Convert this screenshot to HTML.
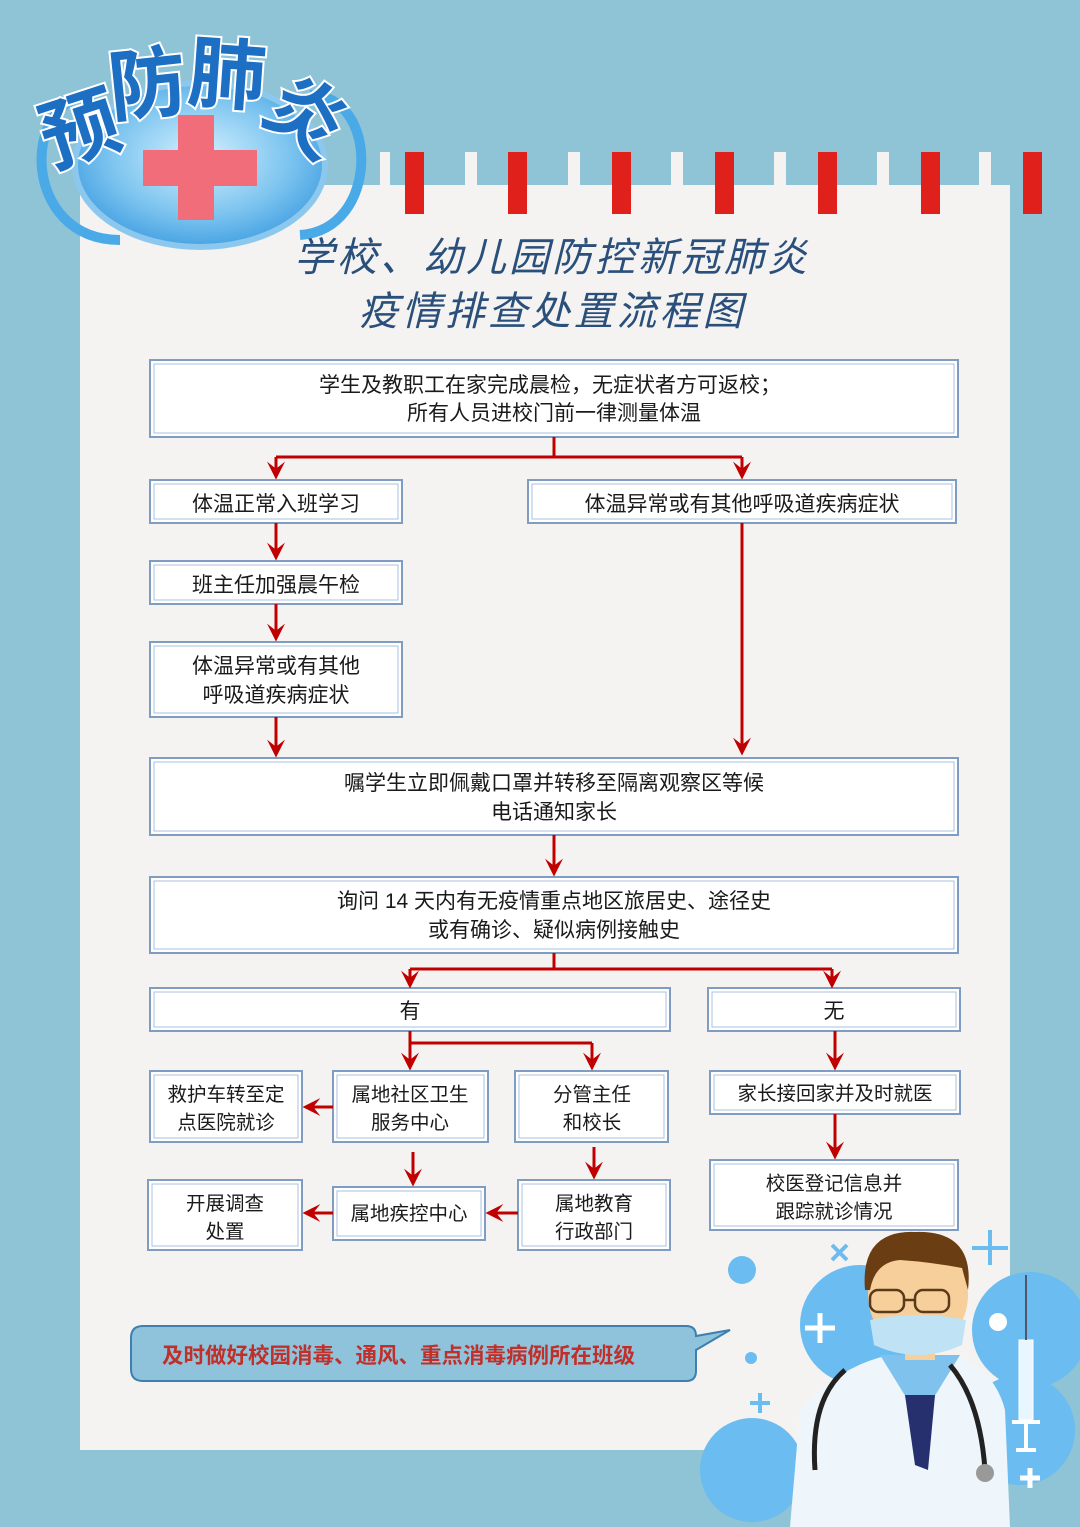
<!DOCTYPE html>
<html><head><meta charset="utf-8"><style>
html,body{margin:0;padding:0;background:#8fc3d6;}
svg{display:block;}
text{font-family:"Liberation Sans","Noto Sans CJK SC",sans-serif;}
</style></head><body>
<svg width="1080" height="1527" viewBox="0 0 1080 1527" xmlns="http://www.w3.org/2000/svg">
<defs>
<radialGradient id="mg" cx="0.5" cy="0.45" r="0.6">
<stop offset="0" stop-color="#d6f1ff"/><stop offset="0.6" stop-color="#7cc4ef"/><stop offset="1" stop-color="#3a9ae0"/>
</radialGradient>
<marker id="ah" viewBox="0 0 10 10" refX="8" refY="5" markerWidth="6" markerHeight="6" orient="auto">
<path d="M0,0 L10,5 L0,10 L4,5 z" fill="#c00000"/>
</marker>
</defs>
<rect width="1080" height="1527" fill="#8fc3d6"/>
<rect x="80" y="185" width="930" height="1265" fill="#f4f3f2"/>
<g fill="#f4f3f2">
<rect x="465" y="152" width="12" height="33"/><rect x="568" y="152" width="12" height="33"/><rect x="671" y="152" width="12" height="33"/><rect x="774" y="152" width="12" height="33"/><rect x="877" y="152" width="12" height="33"/><rect x="979" y="152" width="12" height="33"/><rect x="380" y="152" width="10" height="33"/>
</g>
<g fill="#e0201a">
<rect x="405" y="152" width="19" height="62"/><rect x="508" y="152" width="19" height="62"/><rect x="612" y="152" width="19" height="62"/><rect x="715" y="152" width="19" height="62"/><rect x="818" y="152" width="19" height="62"/><rect x="921" y="152" width="19" height="62"/><rect x="1023" y="152" width="19" height="62"/>
</g>
<path d="M95,95 C20,95 20,240 120,240" fill="none" stroke="#4aaae8" stroke-width="10"/>
<path d="M310,95 C380,95 380,230 300,235" fill="none" stroke="#4aaae8" stroke-width="10"/>
<ellipse cx="200" cy="165" rx="125" ry="82" fill="url(#mg)" stroke="#8cc8ee" stroke-width="6"/>
<rect x="178" y="115" width="36" height="105" fill="#f26d7a"/>
<rect x="143" y="150" width="114" height="36" fill="#f26d7a"/>
<g font-size="78" font-weight="bold" fill="#1d6fc4" stroke="#ffffff" stroke-width="4" paint-order="stroke">
<text x="38" y="158" transform="rotate(-18 75 120)">预</text>
<text x="108" y="112" transform="rotate(-6 145 80)">防</text>
<text x="188" y="102" transform="rotate(4 225 75)">肺</text>
<text x="272" y="145" transform="rotate(35 310 110)">炎</text>
</g>
<g font-family="'Liberation Serif','Noto Serif CJK SC',serif" font-size="40" fill="#2a4f7a" font-style="italic" text-anchor="middle" letter-spacing="3">
<text x="552" y="271">学校、幼儿园防控新冠肺炎</text>
<text x="552" y="325">疫情排查处置流程图</text>
</g>
<g fill="#ffffff" stroke="#7f9dc2" stroke-width="2">
<rect x="150" y="360" width="808" height="77"/><rect x="150" y="480" width="252" height="43"/><rect x="528" y="480" width="428" height="43"/>
<rect x="150" y="561" width="252" height="43"/><rect x="150" y="642" width="252" height="75"/><rect x="150" y="758" width="808" height="77"/>
<rect x="150" y="877" width="808" height="76"/><rect x="150" y="988" width="520" height="43"/><rect x="708" y="988" width="252" height="43"/>
<rect x="150" y="1071" width="152" height="71"/><rect x="333" y="1071" width="155" height="71"/><rect x="515" y="1071" width="153" height="71"/>
<rect x="710" y="1071" width="250" height="43"/><rect x="148" y="1180" width="154" height="70"/><rect x="333" y="1187" width="152" height="53"/>
<rect x="518" y="1180" width="152" height="70"/><rect x="710" y="1160" width="248" height="70"/>
</g>
<g fill="none" stroke="#a9c0dc" stroke-width="1">
<rect x="154" y="364" width="800" height="69"/><rect x="154" y="484" width="244" height="35"/><rect x="532" y="484" width="420" height="35"/>
<rect x="154" y="565" width="244" height="35"/><rect x="154" y="646" width="244" height="67"/><rect x="154" y="762" width="800" height="69"/>
<rect x="154" y="881" width="800" height="68"/><rect x="154" y="992" width="512" height="35"/><rect x="712" y="992" width="244" height="35"/>
<rect x="154" y="1075" width="144" height="63"/><rect x="337" y="1075" width="147" height="63"/><rect x="519" y="1075" width="145" height="63"/>
<rect x="714" y="1075" width="242" height="35"/><rect x="152" y="1184" width="146" height="62"/><rect x="337" y="1191" width="144" height="45"/>
<rect x="522" y="1184" width="144" height="62"/><rect x="714" y="1164" width="240" height="62"/>
</g>
<g font-size="21" fill="#1a1a1a" text-anchor="middle">
<text x="550" y="392">学生及教职工在家完成晨检，无症状者方可返校；</text>
<text x="554" y="420">所有人员进校门前一律测量体温</text>
<text x="276" y="511">体温正常入班学习</text>
<text x="742" y="511">体温异常或有其他呼吸道疾病症状</text>
<text x="276" y="592">班主任加强晨午检</text>
<text x="276" y="673">体温异常或有其他</text>
<text x="276" y="702">呼吸道疾病症状</text>
<text x="554" y="790">嘱学生立即佩戴口罩并转移至隔离观察区等候</text>
<text x="554" y="819">电话通知家长</text>
<text x="554" y="908">询问 14 天内有无疫情重点地区旅居史、途径史</text>
<text x="554" y="937">或有确诊、疑似病例接触史</text>
<text x="410" y="1018">有</text>
<text x="834" y="1018">无</text>
<g font-size="19.5">
<text x="226" y="1101">救护车转至定</text><text x="226" y="1129">点医院就诊</text>
<text x="410" y="1101">属地社区卫生</text><text x="410" y="1129">服务中心</text>
<text x="592" y="1101">分管主任</text><text x="592" y="1129">和校长</text>
<text x="835" y="1100">家长接回家并及时就医</text>
<text x="225" y="1210">开展调查</text><text x="225" y="1238">处置</text>
<text x="409" y="1220">属地疾控中心</text>
<text x="594" y="1210">属地教育</text><text x="594" y="1238">行政部门</text>
<text x="834" y="1190">校医登记信息并</text><text x="834" y="1218">跟踪就诊情况</text>
</g>
</g>
<g stroke="#c00000" stroke-width="3" fill="none">
<path d="M554,437 V457 M276,457 H742"/>
<path d="M276,457 V476" marker-end="url(#ah)"/><path d="M742,457 V476" marker-end="url(#ah)"/>
<path d="M276,523 V557" marker-end="url(#ah)"/><path d="M276,604 V638" marker-end="url(#ah)"/>
<path d="M276,717 V754" marker-end="url(#ah)"/><path d="M742,523 V752" marker-end="url(#ah)"/>
<path d="M554,835 V873" marker-end="url(#ah)"/>
<path d="M554,953 V969 M410,969 H832"/>
<path d="M410,969 V985" marker-end="url(#ah)"/><path d="M832,969 V985" marker-end="url(#ah)"/>
<path d="M410,1031 V1043 M410,1043 H592"/>
<path d="M410,1043 V1067" marker-end="url(#ah)"/><path d="M592,1043 V1067" marker-end="url(#ah)"/>
<path d="M835,1031 V1067" marker-end="url(#ah)"/><path d="M835,1114 V1156" marker-end="url(#ah)"/>
<path d="M333,1107 H306" marker-end="url(#ah)"/>
<path d="M413,1152 V1183" marker-end="url(#ah)"/><path d="M594,1147 V1176" marker-end="url(#ah)"/>
<path d="M333,1213 H306" marker-end="url(#ah)"/><path d="M518,1213 H489" marker-end="url(#ah)"/>
</g>
<path d="M143,1326 H686 Q696,1326 696,1336 L730,1330 L696,1350 V1371 Q696,1381 686,1381 H143 Q131,1381 131,1369 V1338 Q131,1326 143,1326 Z" fill="#8fc3dc" stroke="#3e7fb0" stroke-width="2"/>
<text x="162" y="1363" font-size="21.5" font-weight="bold" fill="#c0302a">及时做好校园消毒、通风、重点消毒病例所在班级</text>
<rect x="1010" y="1240" width="70" height="287" fill="#8fc3d6"/>
<rect x="700" y="1450" width="380" height="77" fill="#8fc3d6"/>
<circle cx="860" cy="1325" r="60" fill="#6bbcf0"/>
<circle cx="1030" cy="1330" r="58" fill="#6bbcf0"/>
<circle cx="1020" cy="1430" r="55" fill="#6bbcf0"/>
<circle cx="752" cy="1470" r="52" fill="#6bbcf0"/>
<circle cx="742" cy="1270" r="14" fill="#6bbcf0"/>
<circle cx="751" cy="1358" r="6" fill="#6bbcf0"/>
<circle cx="998" cy="1322" r="9" fill="#ffffff"/>
<g stroke="#6bbcf0" stroke-width="4"><path d="M990,1230 V1265 M972,1248 H1008 M760,1393 V1413 M750,1403 H770 M832,1245 L847,1260 M847,1245 L832,1260"/></g>
<g stroke="#ffffff" stroke-width="5"><path d="M820,1313 V1343 M805,1328 H835 M1030,1468 V1488 M1020,1478 H1040"/></g>
<rect x="1019" y="1340" width="14" height="80" fill="#e8f6ff" stroke="#fff"/>
<path d="M1026,1275 V1340" stroke="#556" stroke-width="2"/>
<path d="M1012,1422 H1040 M1026,1420 V1450 M1016,1450 H1036" stroke="#fff" stroke-width="4"/>
<path d="M790,1527 L800,1410 Q840,1365 890,1355 L955,1355 Q995,1370 1005,1410 L1010,1527 Z" fill="#eef6fb"/>
<path d="M880,1355 L920,1420 L960,1355 Z" fill="#7fc2ee"/>
<path d="M905,1395 L935,1395 L928,1470 L915,1465 Z" fill="#27306e"/>
<path d="M845,1370 Q810,1400 815,1470" stroke="#222" stroke-width="5" fill="none"/>
<path d="M950,1365 Q980,1400 985,1470" stroke="#222" stroke-width="5" fill="none"/>
<circle cx="985" cy="1473" r="9" fill="#999"/>
<rect x="905" y="1330" width="30" height="30" fill="#f6cf9a"/>
<ellipse cx="918" cy="1295" rx="50" ry="55" fill="#f6cf9a"/>
<path d="M865,1290 Q860,1230 915,1232 Q975,1230 968,1290 L962,1268 Q930,1262 900,1260 Q875,1262 870,1290 Z" fill="#6b3d12"/>
<g stroke="#5a3a1a" stroke-width="2.5" fill="none"><rect x="870" y="1290" width="34" height="22" rx="8"/><rect x="915" y="1290" width="34" height="22" rx="8"/><path d="M904,1300 H915"/></g>
<path d="M870,1320 Q918,1310 966,1320 L962,1345 Q918,1365 874,1345 Z" fill="#bfe3f5"/>
</svg>
</body></html>
